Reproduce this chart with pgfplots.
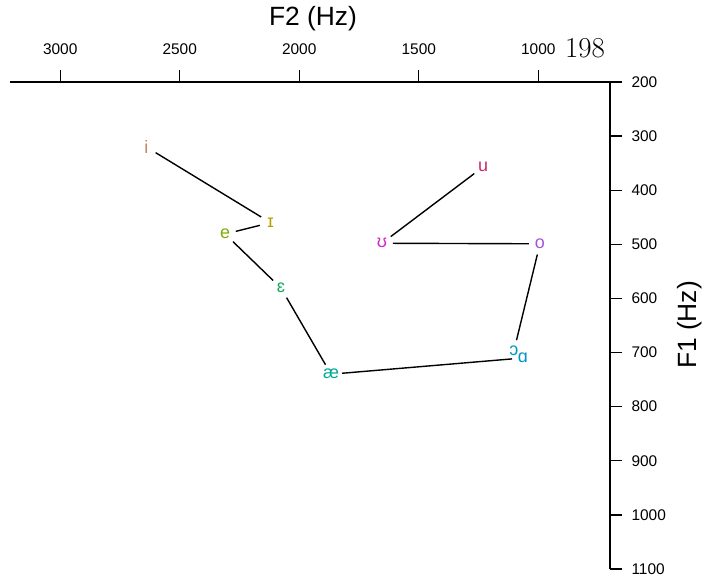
\documentclass[border=0pt]{standalone}
\usepackage{fontspec}
\setmainfont{Liberation Sans}
\newfontfamily\lmr{Latin Modern Roman}
\usepackage{pgfplots}
\pgfplotsset{compat=1.18}
\definecolor{ci}{RGB}{200,130,100}
\definecolor{cI}{RGB}{181,160,0}
\definecolor{ce}{RGB}{124,174,0}
\definecolor{ceps}{RGB}{20,168,90}
\definecolor{cae}{RGB}{0,168,150}
\definecolor{cao}{RGB}{0,150,200}
\definecolor{co}{RGB}{165,85,215}
\definecolor{cU}{RGB}{210,40,200}
\definecolor{cu}{RGB}{205,40,110}
\newcommand{\vf}{\fontsize{18}{21}\selectfont}
\begin{document}
\begin{tikzpicture}
\useasboundingbox (-10bp,-13bp) rectangle (710bp,569bp);
\begin{axis}[
  scale only axis, width=600bp, height=487bp,
  at={(0,0)}, anchor=south west,
  x dir=reverse, y dir=reverse,
  xmin=700, xmax=3210, ymin=200, ymax=1100,
  axis x line*=top, axis y line*=right,
  axis line style={-, line width=1.3bp},
  xtick={1000,1500,2000,2500,3000},
  ytick={200,300,400,500,600,700,800,900,1000,1100},
  minor tick num=0,
  tick align=outside, major tick length=12bp,
  tick style={black, line width=1.3bp},
  /pgf/number format/assume math mode=true,
  /pgf/number format/1000 sep={},
  ticklabel style={font=\fontsize{15.5}{18}\selectfont},
  xticklabel style={yshift=11.5bp},
  yticklabel style={xshift=6bp},
  clip=false,
]
% connecting segments
\addplot[black, line width=1.4bp, shorten <=11bp, shorten >=11bp] coordinates {(2640,320) (2120,460)};
\addplot[black, line width=1.4bp, shorten <=11bp, shorten >=11bp] coordinates {(2120,460) (2310,481)};
\addplot[black, line width=1.4bp, shorten <=11bp, shorten >=11bp] coordinates {(2310,481) (2076,581)};
\addplot[black, line width=1.4bp, shorten <=11bp, shorten >=11bp] coordinates {(2076,581) (1867,740)};
\addplot[black, line width=1.4bp, shorten <=11bp, shorten >=11bp] coordinates {(1867,740) (1064,710)};
\addplot[black, line width=1.4bp, shorten <=11bp, shorten >=11bp] coordinates {(1102,697) (993,499)};
\addplot[black, line width=1.4bp, shorten <=11bp, shorten >=11bp] coordinates {(993,499) (1654,498)};
\addplot[black, line width=1.4bp, shorten <=11bp, shorten >=11bp] coordinates {(1654,498) (1231,357)};
% vowel labels
\addplot[draw=none, mark=none, nodes near coords={i}, nodes near coords style={anchor=center, text=ci, font=\vf}] coordinates {(2640,320)};
\addplot[draw=none, mark=none, nodes near coords={ɪ}, nodes near coords style={anchor=center, text=cI, font=\vf}] coordinates {(2120,460)};
\addplot[draw=none, mark=none, nodes near coords={e}, nodes near coords style={anchor=center, text=ce, font=\vf}] coordinates {(2310,481)};
\addplot[draw=none, mark=none, nodes near coords={ɛ}, nodes near coords style={anchor=center, text=ceps, font=\vf}] coordinates {(2076,581)};
\addplot[draw=none, mark=none, nodes near coords={æ}, nodes near coords style={anchor=center, text=cae, font=\vf}] coordinates {(1867,740)};
\addplot[draw=none, mark=none, nodes near coords={ɑ}, nodes near coords style={anchor=center, text=cao, font=\vf}] coordinates {(1064,710)};
\addplot[draw=none, mark=none, nodes near coords={ɔ}, nodes near coords style={anchor=center, text=cao, font=\vf}] coordinates {(1102,697)};
\addplot[draw=none, mark=none, nodes near coords={o}, nodes near coords style={anchor=center, text=co, font=\vf}] coordinates {(993,499)};
\addplot[draw=none, mark=none, nodes near coords={ʊ}, nodes near coords style={anchor=center, text=cU, font=\vf}] coordinates {(1654,498)};
\addplot[draw=none, mark=none, nodes near coords={u}, nodes near coords style={anchor=center, text=cu, font=\vf}] coordinates {(1231,357)};
\end{axis}
\node[font=\fontsize{26.5}{30}\selectfont] at (303bp,550bp) {F2 (Hz)};
\node[font=\fontsize{26.5}{30}\selectfont, rotate=90] at (680bp,244bp) {F1 (Hz)};
\node[font=\lmr\fontsize{29}{33}\selectfont] at (575bp,521bp) {198};
\end{tikzpicture}
\end{document}
